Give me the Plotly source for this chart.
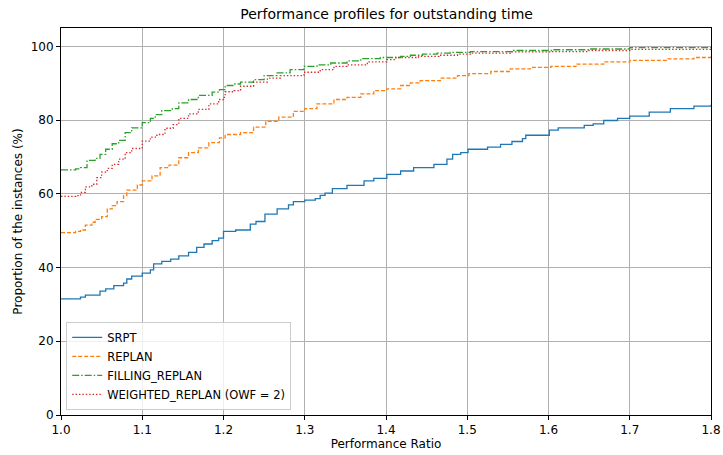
import plotly.graph_objects as go

# ---------------- data ----------------
srpt_x = [1.000, 1.024, 1.030, 1.048, 1.055, 1.065, 1.077, 1.081, 1.087, 1.100, 1.110, 1.114,
          1.124, 1.135, 1.145, 1.157, 1.167, 1.176, 1.186, 1.194, 1.200, 1.215, 1.233, 1.240,
          1.251, 1.266, 1.280, 1.286, 1.300, 1.313, 1.319, 1.325, 1.334, 1.352, 1.373, 1.385,
          1.401, 1.418, 1.434, 1.459, 1.475, 1.482, 1.492, 1.501, 1.525, 1.541, 1.555, 1.568,
          1.572, 1.601, 1.612, 1.644, 1.655, 1.668, 1.685, 1.700, 1.724, 1.750, 1.779, 1.800]
srpt_y = [31.5, 32.0, 32.5, 33.6, 34.2, 35.1, 35.8, 36.9, 37.7, 38.5, 39.4, 41.0,
          41.7, 42.3, 43.2, 44.1, 45.5, 46.4, 47.3, 48.0, 49.8, 50.2, 51.8, 52.5,
          54.5, 55.9, 57.0, 57.9, 58.3, 58.7, 59.6, 60.2, 61.4, 62.3, 63.5, 64.2,
          65.3, 66.2, 67.1, 68.0, 69.4, 70.7, 71.2, 72.1, 72.7, 73.4, 74.2, 75.0,
          75.9, 77.3, 77.9, 78.6, 79.0, 79.9, 80.5, 81.1, 82.2, 83.1, 83.8, 84.2]

replan_x = [1.000, 1.018, 1.024, 1.030, 1.038, 1.042, 1.050, 1.057, 1.063, 1.069, 1.077, 1.081,
            1.094, 1.100, 1.112, 1.122, 1.133, 1.145, 1.157, 1.169, 1.182, 1.195, 1.202, 1.221,
            1.237, 1.252, 1.268, 1.286, 1.300, 1.315, 1.336, 1.352, 1.369, 1.385, 1.401, 1.418,
            1.430, 1.442, 1.467, 1.488, 1.502, 1.529, 1.553, 1.578, 1.603, 1.635, 1.668, 1.700,
            1.746, 1.779, 1.800]
replan_y = [49.5, 49.8, 50.2, 51.5, 52.3, 53.1, 53.8, 55.9, 56.8, 57.9, 59.5, 61.0,
            62.4, 63.5, 64.9, 67.1, 67.8, 69.8, 71.2, 72.5, 73.9, 75.2, 76.1, 76.6,
            78.1, 79.7, 80.8, 82.4, 83.1, 84.4, 85.6, 86.2, 87.1, 88.0, 88.5, 89.4,
            90.1, 90.7, 91.4, 92.1, 92.6, 93.2, 93.9, 94.3, 94.6, 95.2, 95.8, 96.2,
            96.6, 97.0, 97.3]

filling_x = [1.000, 1.018, 1.024, 1.032, 1.042, 1.048, 1.055, 1.063, 1.071, 1.079, 1.087, 1.100,
             1.110, 1.116, 1.124, 1.137, 1.145, 1.157, 1.169, 1.186, 1.195, 1.202, 1.213, 1.221,
             1.237, 1.250, 1.266, 1.282, 1.299, 1.315, 1.332, 1.352, 1.369, 1.393, 1.418, 1.430,
             1.445, 1.463, 1.479, 1.504, 1.557, 1.605, 1.650, 1.700, 1.800]
filling_y = [66.5, 66.8, 67.1, 69.1, 69.6, 70.7, 72.1, 73.6, 74.5, 76.6, 77.9, 79.3,
             80.5, 81.5, 82.6, 83.1, 84.7, 85.6, 86.7, 87.6, 88.3, 89.4, 89.8, 90.3,
             91.0, 92.1, 92.8, 93.7, 94.6, 95.0, 95.5, 96.1, 96.7, 97.0, 97.3, 97.6,
             97.9, 98.2, 98.4, 98.6, 98.9, 99.1, 99.3, 99.7, 99.8]

weighted_x = [1.000, 1.018, 1.024, 1.030, 1.038, 1.044, 1.050, 1.057, 1.063, 1.071, 1.079, 1.087,
              1.100, 1.110, 1.118, 1.128, 1.138, 1.145, 1.157, 1.169, 1.182, 1.194, 1.200, 1.202,
              1.213, 1.221, 1.237, 1.254, 1.270, 1.299, 1.319, 1.336, 1.352, 1.377, 1.401, 1.412,
              1.440, 1.465, 1.488, 1.504, 1.553, 1.603, 1.650, 1.700, 1.800]
weighted_y = [59.3, 59.5, 60.4, 61.9, 62.6, 64.4, 65.9, 66.9, 68.0, 69.4, 71.2, 72.3,
              74.3, 75.4, 76.1, 77.8, 78.8, 80.5, 81.7, 82.9, 84.4, 85.6, 86.2, 87.7,
              88.0, 89.2, 90.3, 91.4, 92.1, 93.0, 93.7, 94.6, 95.0, 95.8, 96.4, 97.0,
              97.3, 97.6, 97.9, 98.2, 98.5, 98.6, 98.9, 99.2, 99.4]

series_names = ["SRPT", "REPLAN", "FILLING_REPLAN", "WEIGHTED_REPLAN (OWF = 2)"]
x_tick_vals = [1.0, 1.1, 1.2, 1.3, 1.4, 1.5, 1.6, 1.7, 1.8]
y_tick_vals = [0, 20, 40, 60, 80, 100]

# ---------------- styles ----------------
colors = ["#1f77b4", "#ff7f0e", "#2ca02c", "#d62728"]
dashes = ["solid", "4px,2px", "7px,2px,1.5px,2px", "1.4px,2px"]
xs = [srpt_x, replan_x, filling_x, weighted_x]
ys = [srpt_y, replan_y, filling_y, weighted_y]

FONT = "DejaVu Sans"
FS = 12
fig = go.Figure()
for name, x, y, c, d in zip(series_names, xs, ys, colors, dashes):
    fig.add_trace(go.Scatter(x=x, y=y, mode="lines", name=name,
                             line=dict(color=c, width=1.3, dash=d, shape="hv")))

axis_common = dict(showline=True, linecolor="black", linewidth=1, mirror=True,
                   ticks="outside", ticklen=4, tickwidth=1, tickcolor="black",
                   showgrid=True, gridcolor="#b0b0b0", gridwidth=1, zeroline=False,
                   automargin=False,
                   tickfont=dict(family=FONT, size=FS, color="black"))

fig.update_layout(
    width=723, height=455,
    margin=dict(l=61, r=12, t=28, b=40),
    paper_bgcolor="white", plot_bgcolor="white",
    font=dict(family=FONT, size=FS, color="black"),
    title=dict(text="Performance profiles for outstanding time", x=0.5347, xanchor="center",
               y=1 - 14 / 455, yanchor="middle",
               font=dict(family=FONT, size=14, color="black")),
    xaxis=dict(range=[1.0, 1.8], tickvals=x_tick_vals, tickformat=".1f",
               title=dict(text="Performance Ratio", standoff=2,
                          font=dict(family=FONT, size=FS, color="black")),
               **axis_common),
    yaxis=dict(range=[0, 105], tickvals=y_tick_vals,
               title=dict(text="Proportion of the instances (%)", standoff=5,
                          font=dict(family=FONT, size=FS, color="black")),
               **axis_common),
    legend=dict(x=0.008, y=0.013, xanchor="left", yanchor="bottom",
                bgcolor="rgba(255,255,255,0.8)", bordercolor="#cccccc", borderwidth=1,
                font=dict(family=FONT, size=11.5, color="black"),
                tracegroupgap=0, itemwidth=30),
    showlegend=True,
)

fig.write_html("out.html")
